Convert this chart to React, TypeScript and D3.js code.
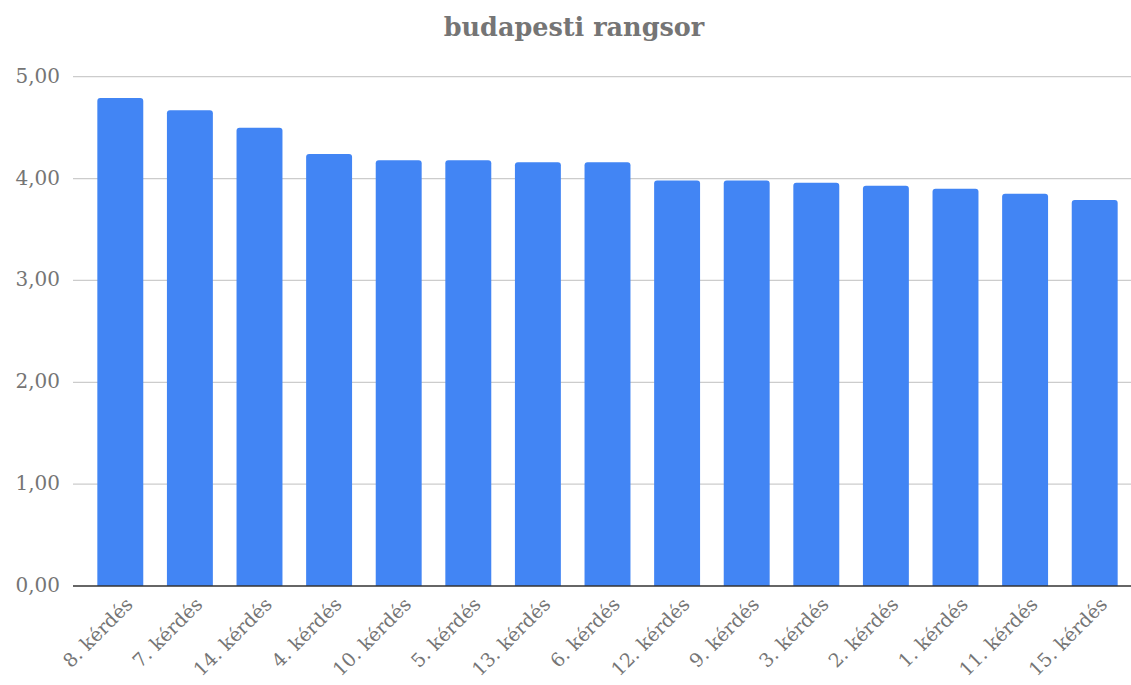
import React from "react";
import * as d3 from "d3";

const categories = [
  "8. kérdés", "7. kérdés", "14. kérdés", "4. kérdés", "10. kérdés",
  "5. kérdés", "13. kérdés", "6. kérdés", "12. kérdés", "9. kérdés",
  "3. kérdés", "2. kérdés", "1. kérdés", "11. kérdés", "15. kérdés",
];
const values = [4.79, 4.67, 4.5, 4.24, 4.18, 4.18, 4.16, 4.16, 3.98, 3.98, 3.96, 3.93, 3.9, 3.85, 3.79];
const yTicks = [0, 1, 2, 3, 4, 5];
const title = "budapesti rangsor";

const W = 1131;
const H = 685;
const FONT = "'DejaVu Serif', Georgia, serif";
const GRAY = "#757575";
const BLUE = "#4285f4";

export default function App() {
  const x = d3.scaleBand<string>().domain(categories).range([85.5, 1129.5]).paddingInner(0.34).paddingOuter(0.17);
  const y = d3.scaleLinear().domain([0, 5]).range([586, 76.7]);
  const fmt = (v: number) => d3.format(".2f")(v).replace(".", ",");
  const r = 3;
  const barPath = (xs: number, w: number, yt: number, yb: number) => {
    const rr = Math.min(r, (yb - yt) / 2);
    return `M${xs},${yb}V${yt + rr}Q${xs},${yt} ${xs + rr},${yt}H${xs + w - rr}Q${xs + w},${yt} ${xs + w},${yt + rr}V${yb}Z`;
  };
  return (
    <svg width={W} height={H} style={{ position: "absolute", left: 0, top: 0, background: "#fff" }} fontFamily={FONT}>
      <text x={574} y={36} textAnchor="middle" fontSize={25.5} fontWeight="bold" fill={GRAY}>{title}</text>
      {yTicks.map((t) => (
        <g key={t}>
          {t !== 0 && <line x1={73} x2={W} y1={y(t)} y2={y(t)} stroke="#cccccc" strokeWidth={1.3} />}
          <text x={60} y={y(t)} dy="0.3em" textAnchor="end" fontSize={20} fill={GRAY}>{fmt(t)}</text>
        </g>
      ))}
      {categories.map((c, i) => {
        const xs = x(c)!;
        return <path key={c} d={barPath(xs, x.bandwidth(), y(values[i]), y(0))} fill={BLUE} />;
      })}
      <line x1={73} x2={W} y1={y(0)} y2={y(0)} stroke="#333" strokeWidth={1.5} />
      {categories.map((c) => {
        const cx = x(c)! + x.bandwidth() / 2 + 9;
        const cy = 601;
        return (
          <text key={c} transform={`translate(${cx},${cy}) rotate(-45)`} textAnchor="end" dy="0.35em" fontSize={19} fill={GRAY}>{c}</text>
        );
      })}
    </svg>
  );
}
